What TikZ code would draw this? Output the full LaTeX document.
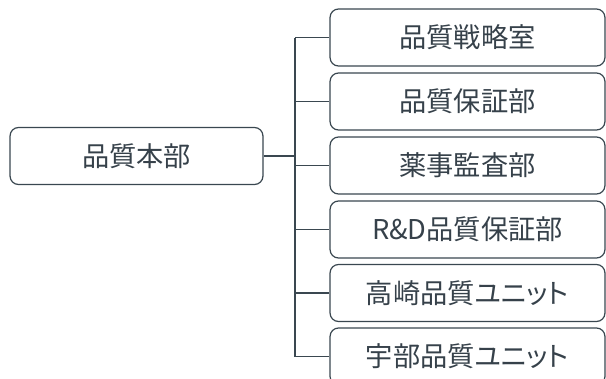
\documentclass[tikz,border=0pt]{standalone}
\usepackage{fontspec}
\setmainfont{Noto Sans CJK JP}
\newfontfamily\kanafont[RawFeature=+palt]{Noto Sans CJK JP}
\definecolor{linegray}{HTML}{3A4750}
\definecolor{textgray}{HTML}{36414A}

\begin{document}
\begin{tikzpicture}[x=0.02cm,y=-0.02cm]
        \tikzstyle{every node}=[rectangle, rounded corners=0.17cm, draw=linegray, fill=white, line width=0.7pt, inner sep=0pt, font=\fontsize{15.5}{18}\selectfont, text=textgray]
        \tikzstyle{unit}=[minimum width=5.5cm, minimum height=1.14cm]
        \tikzstyle{edge}=[linegray, line width=0.75pt]

        \useasboundingbox (0,0) rectangle (606,379);
        \clip (0,0) rectangle (606,379);

        \node[minimum width=5.06cm, minimum height=1.14cm] (hq) at (136.5,156) {品質本部};

        \node[unit] (b1) at (467.5,37.5)  {品質戦略室};
        \node[unit] (b2) at (467.5,101.5) {品質保証部};
        \node[unit] (b3) at (467.5,165.5) {薬事監査部};
        \node[unit] (b4) at (467.5,229.5) {R\&D品質保証部};
        \node[unit] (b5) at (467.5,293)   {高崎品質{\kanafont ユニット}};
        \node[unit] (b6) at (467.5,356.5) {宇部品質{\kanafont ユニット}};

        \coordinate (trunk) at (295,156);

        \draw[edge, line width=1.1pt] (hq) -- (trunk);
        \draw[edge] (trunk |- b1) -- (trunk |- b6);
        \foreach \b in {b1,b2,b3,b4,b5,b6}
            \draw[edge] (trunk |- \b) -- (\b);
\end{tikzpicture}
\end{document}
